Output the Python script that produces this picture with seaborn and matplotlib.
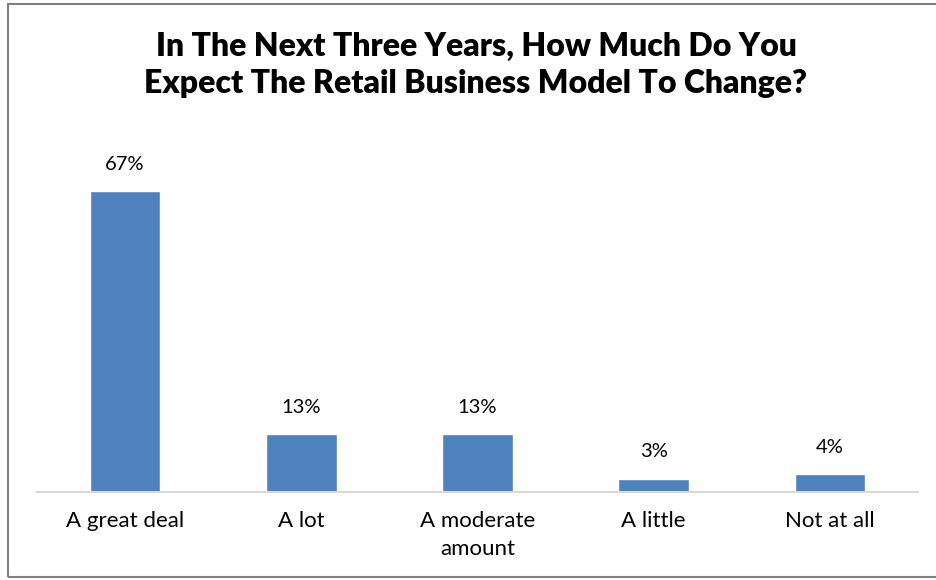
import matplotlib
matplotlib.use("Agg")
import matplotlib.pyplot as plt
import matplotlib.patches as mpatches
import seaborn as sns
import pandas as pd

categories = ["A great deal", "A lot", "A moderate\namount", "A little", "Not at all"]
values = [67, 13, 13, 3, 4]
value_labels = ["67%", "13%", "13%", "3%", "4%"]

title = "In The Next Three Years, How Much Do You\nExpect The Retail Business Model To Change?"

sns.set_theme(style="white")
plt.rcParams["font.family"] = ["Lato", "DejaVu Sans"]

W, H = 937, 580
fig = plt.figure(figsize=(W / 100, H / 100), dpi=100)

# plot area in pixel coordinates
left, right, bottom, top = 37, 918, 492, 130
ax = fig.add_axes([left / W, 1 - bottom / H, (right - left) / W, (bottom - top) / H])

df = pd.DataFrame({"category": categories, "value": values})
sns.barplot(data=df, x="category", y="value", color="#4F81BD", width=0.4,
            saturation=1, ax=ax)

ax.set_ylim(0, (bottom - top) / ((492 - 191) / 67))
ax.set_xlim(-0.5, len(categories) - 0.5)
ax.set_xlabel("")
ax.set_ylabel("")
ax.set_yticks([])
for s in ["top", "right", "left"]:
    ax.spines[s].set_visible(False)
ax.spines["bottom"].set_color("#D9D9D9")
ax.spines["bottom"].set_linewidth(1.5)
ax.tick_params(axis="x", length=0, pad=14, labelsize=16, labelcolor="black")
for lbl in ax.get_xticklabels():
    lbl.set_linespacing(1.45)

for i, (v, t) in enumerate(zip(values, value_labels)):
    ax.annotate(t, (i, v), xytext=(0, 13), textcoords="offset points",
                ha="center", va="bottom", fontsize=14.5, color="black")

fig.text(476 / W, 1 - 65 / H, title, ha="center", va="center",
         fontsize=23, fontweight="heavy", color="black", linespacing=1.32)

# frame around the chart
frame = mpatches.Rectangle((8 / W, 1 - 577 / H), (W + 10 - 8) / W, (577 - 4) / H,
                           transform=fig.transFigure, fill=False,
                           edgecolor="#7F7F7F", linewidth=1.5, clip_on=False)
fig.patches.append(frame)

fig.savefig("out.png", dpi=100, facecolor="white")
